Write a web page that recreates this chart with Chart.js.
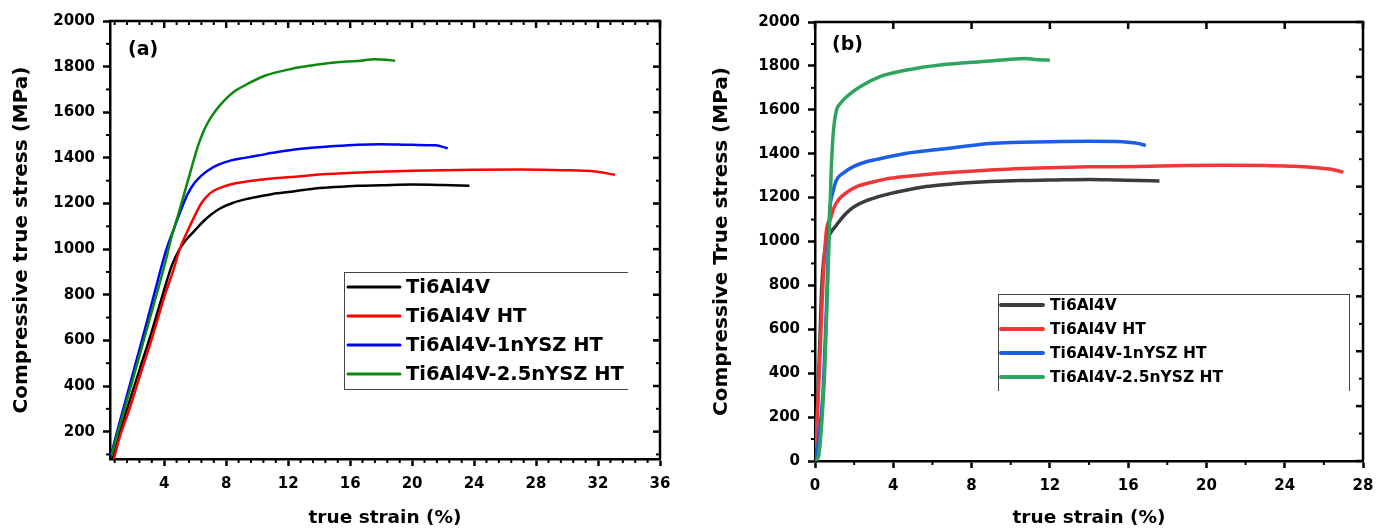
<!DOCTYPE html>
<html lang="en">
<head>
<meta charset="utf-8">
<script src="https://cdn.jsdelivr.net/npm/chart.js@4.4.0/dist/chart.umd.min.js"></script>
<style>
  body { margin: 0; background: #fff; }
  #wrap { position: relative; width: 1386px; height: 530px; }
  .panel { position: absolute; top: 0; }
  #panelA { left: 0; }
  #panelB { left: 700px; }
</style>
</head>
<body>
<div id="wrap">
  <div class="panel" id="panelA"><canvas id="chartA" width="690" height="530"></canvas></div>
  <div class="panel" id="panelB"><canvas id="chartB" width="686" height="530"></canvas></div>
</div>
<script>
const FONT = "'DejaVu Sans', 'Liberation Sans', sans-serif";
Chart.defaults.font.family = FONT;
Chart.defaults.color = '#000';

const seriesNames = ['Ti6Al4V', 'Ti6Al4V HT', 'Ti6Al4V-1nYSZ HT', 'Ti6Al4V-2.5nYSZ HT'];

// ---- panel (a): true strain (%) vs compressive true stress (MPa) ----
const aStrainTi64 = [0.65, 1.0, 1.6, 2.4, 3.2, 3.9, 4.5, 4.95, 5.4, 5.95, 6.5, 7.03, 7.6, 8.32, 9.2, 10.05, 11, 12.2, 13.5, 15, 16.5, 18, 20, 22, 23.7];
const aStressTi64 = [85, 170, 300, 470, 640, 800, 930, 995, 1040, 1080, 1120, 1152, 1178, 1200, 1218, 1230, 1242, 1252, 1264, 1272, 1278, 1280, 1283, 1281, 1278];

const aStrainHT = [0.75, 1.1, 1.76, 2.5, 3.3, 4.0, 4.6, 5.0, 5.53, 6.0, 6.39, 6.8, 7.25, 8.0, 8.54, 10.05, 12.2, 14.5, 17.3, 20, 24, 27, 29.8, 31.8, 33.1];
const aStressHT = [80, 170, 300, 460, 630, 790, 910, 1000, 1083, 1150, 1200, 1235, 1258, 1278, 1288, 1303, 1316, 1329, 1338, 1344, 1348, 1349, 1346, 1340, 1326];

const aStrain1n = [0.55, 1.2, 2.0, 2.8, 3.4, 4.1, 4.6, 5.1, 5.5, 5.95, 6.4, 6.82, 7.5, 8.32, 9.2, 10.05, 11, 12.2, 13.5, 15, 16.5, 18, 20, 21.5, 22.3];
const aStress1n = [95, 260, 460, 660, 815, 990, 1085, 1175, 1240, 1290, 1322, 1345, 1370, 1389, 1400, 1410, 1422, 1435, 1444, 1452, 1458, 1460, 1457, 1455, 1442];

const aStrain25n = [0.6, 1.0, 1.44, 2.0, 2.8, 3.5, 4.1, 4.45, 4.9, 5.53, 6.17, 6.5, 6.82, 7.3, 7.87, 8.5, 9.4, 10.5, 12.2, 13.5, 15, 16.5, 17.6, 18.3, 18.9];
const aStress25n = [95, 195, 300, 435, 630, 800, 950, 1048, 1150, 1300, 1450, 1510, 1555, 1605, 1651, 1690, 1725, 1760, 1790, 1805, 1818, 1825, 1832, 1830, 1826];

const aXTicks = [4, 8, 12, 16, 20, 24, 28, 32, 36];
const aYTicks = [200, 400, 600, 800, 1000, 1200, 1400, 1600, 1800, 2000];

// ---- panel (b) ----
const bStrainTi64 = [0, 0.05, 0.15, 0.25, 0.35, 0.5, 0.6, 0.8, 1.1, 1.45, 1.8, 2.13, 2.6, 3.2, 3.83, 4.7, 5.53, 6.4, 7.24, 8.94, 10.5, 12, 14, 15.5, 16.5, 17.6];
const bStressTi64 = [0, 100, 300, 550, 800, 960, 1000, 1040, 1075, 1115, 1145, 1165, 1185, 1203, 1218, 1235, 1248, 1257, 1264, 1273, 1278, 1280, 1283, 1280, 1278, 1276];

const bStrainHT = [0, 0.07, 0.18, 0.29, 0.4, 0.5, 0.6, 0.7, 0.77, 0.95, 1.19, 1.6, 2.13, 3.0, 3.83, 5.0, 6.39, 8.94, 12, 14, 16.5, 19, 21, 23, 24.5, 26.3, 27];
const bStressHT = [60, 120, 330, 560, 800, 960, 1060, 1090, 1098, 1150, 1189, 1222, 1250, 1272, 1288, 1300, 1311, 1326, 1336, 1340, 1342, 1346, 1347, 1346, 1343, 1330, 1316];

const bStrain1n = [0, 0.1, 0.25, 0.4, 0.5, 0.6, 0.67, 0.72, 0.77, 0.9, 1.1, 1.5, 1.96, 2.5, 3.15, 4.69, 6.39, 8.94, 10.5, 12, 14, 15.4, 16.5, 16.9];
const bStress1n = [0, 40, 150, 300, 500, 740, 950, 1080, 1159, 1220, 1280, 1315, 1341, 1360, 1374, 1402, 1420, 1447, 1452, 1455, 1457, 1456, 1447, 1437];

const bStrain25n = [0, 0.18, 0.3, 0.4, 0.5, 0.6, 0.7, 0.77, 0.83, 0.9, 0.96, 1.1, 1.3, 1.62, 2.3, 3.32, 4.69, 6.39, 8.94, 10.0, 10.7, 11.5, 12.0];
const bStress25n = [0, 20, 120, 250, 420, 680, 950, 1150, 1330, 1450, 1520, 1599, 1630, 1660, 1705, 1751, 1781, 1804, 1822, 1830, 1834, 1828, 1826];

const bXTicks = [0, 4, 8, 12, 16, 20, 24, 28];
const bYTicks = [0, 200, 400, 600, 800, 1000, 1200, 1400, 1600, 1800, 2000];
const bYRightTicks = [0, 250, 500, 750, 1000, 1250, 1500, 1750, 2000];

function pts(xs, ys) {
  return xs.map((x, i) => ({ x: x, y: ys[i] }));
}

// frame: top/right border, mirrored ticks, minor ticks
const frameTicks = {
  id: 'frameTicks',
  afterDraw(chart, args, o) {
    const { ctx, chartArea: a } = chart;
    const x = chart.scales.x, y = chart.scales.y;
    const line = (x1, y1, x2, y2, w) => {
      ctx.lineWidth = w;
      ctx.beginPath(); ctx.moveTo(x1, y1); ctx.lineTo(x2, y2); ctx.stroke();
    };
    const minors = (scale, step, majors, fn) => {
      if (!step) return;
      for (let k = Math.ceil(scale.min / step - 1e-9); k * step <= scale.max + 1e-9; k++) {
        const v = k * step;
        if (majors.some(m => Math.abs(m - v) < 1e-6)) continue;
        fn(scale.getPixelForValue(v));
      }
    };
    ctx.save();
    ctx.strokeStyle = '#000';
    ctx.lineCap = 'butt';
    line(a.left - 1.25, a.top, a.right + 1.25, a.top, 2.5);
    line(a.right, a.top, a.right, a.bottom, 2.5);
    // minor ticks outward on bottom / left
    minors(x, o.xMinor, o.xTicks, px => line(px, a.bottom, px, a.bottom + 4, 2));
    minors(y, o.yMinor, o.yTicks, py => line(a.left, py, a.left - 4, py, 2));
    // mirrored ticks inward on top / right
    o.topTicks.forEach(v => { const px = x.getPixelForValue(v); line(px, a.top, px, a.top + 7, 2.5); });
    minors(x, o.topMinor, o.topTicks, px => line(px, a.top, px, a.top + 4, 2));
    o.rightTicks.forEach(v => { const py = y.getPixelForValue(v); line(a.right, py, a.right - 7, py, 2.5); });
    minors(y, o.rightMinor, o.rightTicks, py => line(a.right, py, a.right - 4, py, 2));
    ctx.restore();
  }
};

// in-plot legend box and panel label
const boxLegend = {
  id: 'boxLegend',
  afterDraw(chart, args, o) {
    const ctx = chart.ctx;
    ctx.save();
    ctx.strokeStyle = '#444';
    ctx.lineWidth = 1;
    ctx.beginPath();
    const b = o.box;
    if (o.sides.includes('l')) { ctx.moveTo(b.l + 0.5, b.t); ctx.lineTo(b.l + 0.5, b.b); }
    if (o.sides.includes('t')) { ctx.moveTo(b.l, b.t + 0.5); ctx.lineTo(b.r, b.t + 0.5); }
    if (o.sides.includes('r')) { ctx.moveTo(b.r - 0.5, b.t); ctx.lineTo(b.r - 0.5, b.b); }
    if (o.sides.includes('b')) { ctx.moveTo(b.l, b.b - 0.5); ctx.lineTo(b.r, b.b - 0.5); }
    ctx.stroke();
    ctx.font = 'bold ' + o.fontSize + 'px ' + FONT;
    ctx.textBaseline = 'middle';
    ctx.textAlign = 'left';
    ctx.lineCap = 'round';
    chart.data.datasets.forEach((ds, i) => {
      const yy = o.rowY + i * o.rowStep;
      ctx.strokeStyle = ds.borderColor;
      ctx.lineWidth = o.lineWidth;
      ctx.beginPath(); ctx.moveTo(o.lineX0, yy); ctx.lineTo(o.lineX1, yy); ctx.stroke();
      ctx.fillStyle = '#000';
      ctx.fillText(ds.label, o.textX, yy + 1);
    });
    ctx.font = 'bold 19px ' + FONT;
    ctx.fillText(o.panel.text, o.panel.x, o.panel.y);
    ctx.restore();
  }
};

function makeChart(id, cfg) {
  const datasets = cfg.series.map((s, i) => ({
    label: seriesNames[i],
    data: s,
    borderColor: cfg.colors[i],
    backgroundColor: cfg.colors[i],
    borderWidth: cfg.lineWidth,
    pointRadius: 0,
    fill: false,
    cubicInterpolationMode: 'monotone',
    order: cfg.series.length - i
  }));
  const tickFont = { family: FONT, size: 15, weight: 'bold' };
  return new Chart(document.getElementById(id), {
    type: 'line',
    data: { datasets: datasets },
    options: {
      responsive: false,
      animation: false,
      devicePixelRatio: 1,
      layout: { padding: cfg.padding },
      plugins: {
        legend: { display: false },
        tooltip: { enabled: false },
        frameTicks: cfg.frame,
        boxLegend: cfg.legend
      },
      scales: {
        x: {
          type: 'linear',
          min: cfg.xMin, max: cfg.xMax,
          afterBuildTicks: s => { s.ticks = cfg.xTicks.map(v => ({ value: v })); },
          afterFit: s => { s.height = cfg.xHeight; },
          border: { display: true, color: '#000', width: 2.5 },
          grid: { drawOnChartArea: false, drawTicks: true, tickLength: 7, tickWidth: 2.5, tickColor: '#000' },
          ticks: { color: '#000', font: tickFont, padding: 9, maxRotation: 0, autoSkip: false, callback: v => String(v) },
          title: { display: true, text: 'true strain (%)', color: '#000',
                   font: { family: FONT, size: 18.5, weight: 'bold' }, padding: { top: 0, bottom: 1 } }
        },
        y: {
          type: 'linear',
          min: cfg.yMin, max: cfg.yMax,
          afterBuildTicks: s => { s.ticks = cfg.yTicks.map(v => ({ value: v })); },
          afterFit: s => { s.width = cfg.yWidth; },
          border: { display: true, color: '#000', width: 2.5 },
          grid: { drawOnChartArea: false, drawTicks: true, tickLength: 7, tickWidth: 2.5, tickColor: '#000' },
          ticks: { color: '#000', font: tickFont, padding: 8, autoSkip: false, callback: v => String(v) },
          title: { display: true, text: cfg.yTitle, color: '#000',
                   font: { family: FONT, size: 20, weight: 'bold' }, padding: { top: 10, bottom: 0 } }
        }
      }
    },
    plugins: [frameTicks, boxLegend]
  });
}

makeChart('chartA', {
  series: [pts(aStrainTi64, aStressTi64), pts(aStrainHT, aStressHT), pts(aStrain1n, aStress1n), pts(aStrain25n, aStress25n)],
  colors: ['#000000', '#ff0000', '#0000ff', '#0a8a0a'],
  lineWidth: 2.5,
  padding: { top: 21, right: 30, left: 0, bottom: 0 },
  xMin: 0.5, xMax: 36, yMin: 80, yMax: 2000,
  xTicks: aXTicks, yTicks: aYTicks,
  xHeight: 71, yWidth: 110,
  yTitle: 'Compressive true stress (MPa)',
  frame: { xTicks: aXTicks, yTicks: aYTicks, xMinor: 0.8, yMinor: 100,
           topTicks: aXTicks, topMinor: 0.8, rightTicks: aYTicks, rightMinor: 100 },
  legend: { box: { l: 344, t: 272, r: 628, b: 390 }, sides: 'ltb',
            rowY: 287, rowStep: 29, lineX0: 348, lineX1: 400, lineWidth: 3, textX: 406, fontSize: 19.5,
            panel: { text: '(a)', x: 128, y: 50 } }
});

makeChart('chartB', {
  series: [pts(bStrainTi64, bStressTi64), pts(bStrainHT, bStressHT), pts(bStrain1n, bStress1n), pts(bStrain25n, bStress25n)],
  colors: ['#3c3c3c', '#ee3838', '#1c5fe6', '#2ea55e'],
  lineWidth: 3.5,
  padding: { top: 22, right: 23, left: 0, bottom: 0 },
  xMin: 0, xMax: 28, yMin: 0, yMax: 2000,
  xTicks: bXTicks, yTicks: bYTicks,
  xHeight: 69, yWidth: 115,
  yTitle: 'Compressive True stress (MPa)',
  frame: { xTicks: bXTicks, yTicks: bYTicks, xMinor: 2, yMinor: 100,
           topTicks: bXTicks, topMinor: 0, rightTicks: bYRightTicks, rightMinor: 125 },
  legend: { box: { l: 298, t: 294, r: 650, b: 391 }, sides: 'ltr',
            rowY: 305, rowStep: 24, lineX0: 301, lineX1: 343, lineWidth: 4, textX: 350, fontSize: 15.5,
            panel: { text: '(b)', x: 132, y: 45 } }
});
</script>
</body>
</html>
